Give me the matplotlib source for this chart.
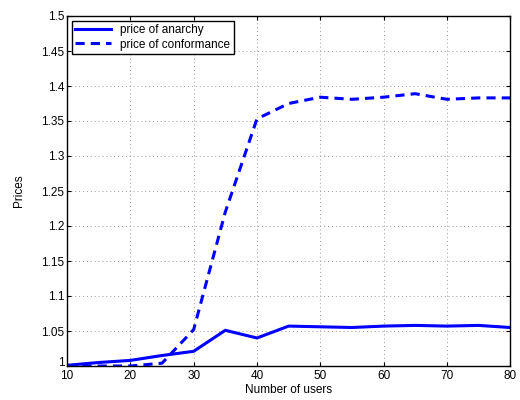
import matplotlib
matplotlib.use('Agg')
import matplotlib.pyplot as plt
import matplotlib.transforms as mtransforms

plt.rcParams['font.family'] = ['Liberation Sans', 'DejaVu Sans']

# number of users
users = [10, 15, 20, 25, 30, 35, 40, 45, 50, 55, 60, 65, 70, 75, 80]
# price of anarchy
anarchy = [1.001, 1.005, 1.008, 1.015, 1.021, 1.051, 1.040, 1.057, 1.056, 1.055,
           1.057, 1.058, 1.057, 1.058, 1.055]
# price of conformance
conformance = [1.000, 1.000, 1.000, 1.004, 1.052, 1.220, 1.353, 1.375, 1.384, 1.381,
               1.384, 1.389, 1.381, 1.383, 1.383]

fig = plt.figure(figsize=(5.2, 4.0), dpi=100)
ax = fig.add_axes([0.129, 0.085, 0.852, 0.875])

ax.plot(users, anarchy, color='#0000ff', lw=2.2, label='price of anarchy')
ax.plot(users, conformance, color='#0000ff', lw=2.2, ls=(0, (3, 2)),
        label='price of conformance')

ax.set_xlim(10, 80)
ax.set_ylim(1, 1.5)
ax.set_xticks(range(10, 81, 10))
ax.set_yticks([1 + 0.05 * i for i in range(11)])
ax.set_yticklabels(['1', '1.05', '1.1', '1.15', '1.2', '1.25', '1.3', '1.35',
                    '1.4', '1.45', '1.5'])
ax.tick_params(direction='in', labelsize=8.5, length=3, top=True, right=True,
               labeltop=False, labelright=False, pad=2)
ax.tick_params(axis='x', pad=3)
ax.grid(True, ls=(0, (1, 3)), color='#999999', lw=0.7)
for s in ax.spines.values():
    s.set_linewidth(1.0)

# lift the bottom "1" a little so it clears the "10" below it
lbl = ax.get_yticklabels()[0]
lbl.set_transform(lbl.get_transform() +
                  mtransforms.ScaledTranslation(0, 3 / 72, fig.dpi_scale_trans))

ax.set_xlabel('Number of users', fontsize=8.5, labelpad=1)
ax.set_ylabel('Prices', fontsize=8.5, labelpad=12)

leg = ax.legend(loc='upper left', fontsize=8.5, fancybox=False, framealpha=1,
                edgecolor='black', borderaxespad=0.4, handlelength=3,
                borderpad=0.3, labelspacing=0.2)
leg.get_frame().set_linewidth(1.0)

fig.savefig('out.png', dpi=100)
